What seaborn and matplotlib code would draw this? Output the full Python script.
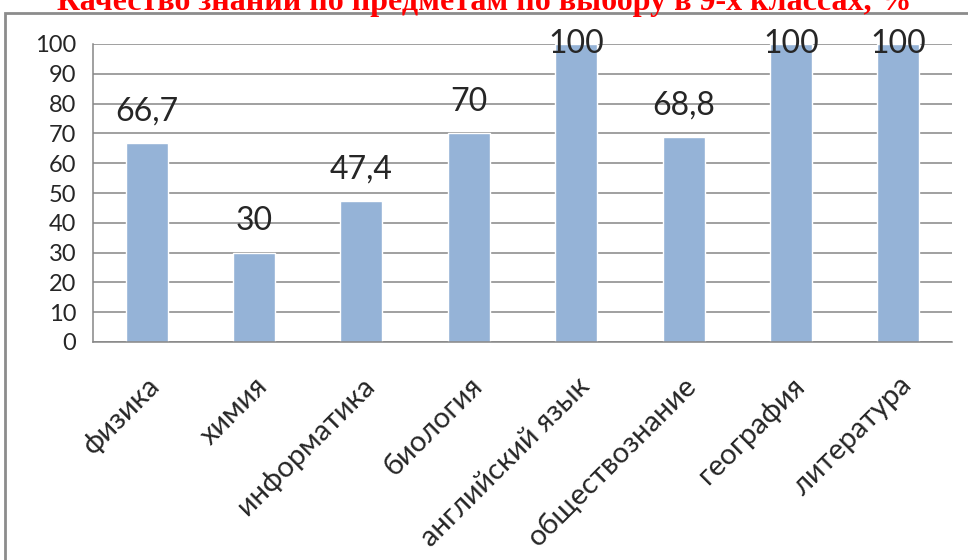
import pandas as pd
import matplotlib.pyplot as plt
import seaborn as sns
from matplotlib.patches import Rectangle

subjects = ["физика", "химия", "информатика", "биология", "английский язык",
            "обществознание", "география", "литература"]
quality = [66.7, 30, 47.4, 70, 100, 68.8, 100, 100]
value_labels = ["66,7", "30", "47,4", "70", "100", "68,8", "100", "100"]
y_ticks = list(range(0, 101, 10))
title = "Качество знаний по предметам по выбору в 9-х классах, %"

sns.set_style("white")
plt.rcParams["font.family"] = ["Lato", "DejaVu Sans"]

df = pd.DataFrame({"subject": subjects, "quality": quality})

fig = plt.figure(figsize=(9.68, 5.6), dpi=100)
ax = fig.add_axes([93 / 968, 1 - 342 / 560, (952 - 93) / 968, (342 - 44) / 560])

sns.barplot(data=df, x="subject", y="quality", color="#95B3D7", width=0.39,
            saturation=1, ax=ax, zorder=2)

ax.set_xlim(-0.5, len(subjects) - 0.5)
ax.set_ylim(0, 100)
ax.set_yticks(y_ticks)
ax.set_yticklabels([str(t) for t in y_ticks], fontsize=17)
ax.yaxis.grid(True, color="#868686", linewidth=1.1, zorder=0)
ax.set_axisbelow(True)
ax.set_xlabel("")
ax.set_ylabel("")

# x ticks at category borders, labels centred on bars
ax.set_xticks([i - 0.5 for i in range(len(subjects) + 1)], minor=False)
ax.set_xticklabels([])
ax.set_xticks(range(len(subjects)), minor=True)
ax.set_xticklabels(subjects, minor=True, rotation=45, ha="right",
                   rotation_mode="anchor", fontsize=21)
ax.tick_params(axis="x", which="major", length=8, color="#868686", width=1.1)
ax.tick_params(axis="x", which="minor", length=0, pad=22)
ax.tick_params(axis="y", length=8, color="#868686", width=1.1, pad=4)

for side in ["top", "right"]:
    ax.spines[side].set_visible(False)
ax.spines["left"].set_color("#868686")
ax.spines["bottom"].set_color("#868686")
ax.spines["left"].set_linewidth(1.1)
ax.spines["bottom"].set_linewidth(1.1)

for i, (v, lab) in enumerate(zip(quality, value_labels)):
    if v >= 100:
        ax.annotate(lab, (i, v), xytext=(0, 0), textcoords="offset points",
                    ha="center", va="center", fontsize=23, annotation_clip=False)
    else:
        ax.annotate(lab, (i, v), xytext=(0, 12), textcoords="offset points",
                    ha="center", va="bottom", fontsize=23)

# chart frame
fig.patches.append(Rectangle((5 / 968, -0.1), 1.2, 1 - 13 / 560 + 0.1,
                             transform=fig.transFigure, fill=False,
                             edgecolor="#8c8c8c", linewidth=2))

fig.text(0.5, 1 - 10 / 560, title, ha="center", va="baseline", color="#ff0000",
         fontsize=23, fontweight="bold", family=["Liberation Serif"])

fig.savefig("out.png", dpi=100)
